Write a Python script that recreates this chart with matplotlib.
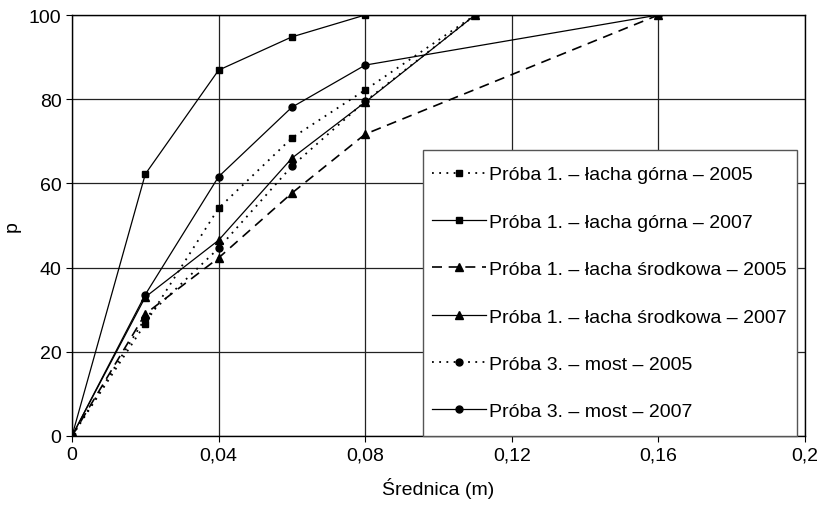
import matplotlib.pyplot as plt
from matplotlib.patches import Rectangle

plt.rcParams['font.family'] = ['Liberation Sans', 'DejaVu Sans']

# sieve diameters (m) and cumulative percentages
x_s1 = [0, 0.02, 0.04, 0.06, 0.08, 0.11]
y_s1_2005 = [0, 26.7, 54.1, 70.8, 82.2, 100]
x_s1_2007 = [0, 0.02, 0.04, 0.06, 0.08]
y_s1_2007 = [0, 62.2, 86.9, 94.8, 100]

x_s2_2005 = [0, 0.02, 0.04, 0.06, 0.08, 0.16]
y_s2_2005 = [0, 29.0, 42.3, 57.7, 71.7, 100]
x_s2_2007 = [0, 0.02, 0.04, 0.06, 0.08, 0.11]
y_s2_2007 = [0, 33.0, 46.5, 66.0, 79.3, 100]

x_s3_2005 = [0, 0.02, 0.04, 0.06, 0.08, 0.11]
y_s3_2005 = [0, 28.0, 44.6, 64.1, 79.5, 100]
x_s3_2007 = [0, 0.02, 0.04, 0.06, 0.08, 0.16]
y_s3_2007 = [0, 33.6, 61.6, 78.1, 88.1, 100]

labels = ['Próba 1. – łacha górna – 2005',
          'Próba 1. – łacha górna – 2007',
          'Próba 1. – łacha środkowa – 2005',
          'Próba 1. – łacha środkowa – 2007',
          'Próba 3. – most – 2005',
          'Próba 3. – most – 2007']

xticks = [0, 0.04, 0.08, 0.12, 0.16, 0.2]
xticklabels = ['0', '0,04', '0,08', '0,12', '0,16', '0,2']
yticks = [0, 20, 40, 60, 80, 100]

fig = plt.figure(figsize=(8.23, 5.06), dpi=100)
ax = fig.add_axes([72/823, 1-437/506, 733/823, 421/506])

dot = (0, (1.0, 3.0))
dash = (0, (6, 4))
kw = dict(color='black', lw=0.9)

ax.plot(x_s1, y_s1_2005, linestyle=dot, marker='s', ms=5, label=labels[0], color='black', lw=1.3)
ax.plot(x_s1_2007, y_s1_2007, linestyle='-', marker='s', ms=5, label=labels[1], **kw)
ax.plot(x_s2_2005, y_s2_2005, linestyle=dash, marker='^', ms=6, label=labels[2], color='black', lw=1.2)
ax.plot(x_s2_2007, y_s2_2007, linestyle='-', marker='^', ms=6, label=labels[3], **kw)
ax.plot(x_s3_2005, y_s3_2005, linestyle=dot, marker='o', ms=5, label=labels[4], color='black', lw=1.3)
ax.plot(x_s3_2007, y_s3_2007, linestyle='-', marker='o', ms=5, label=labels[5], **kw)

ax.set_xlim(0, 0.2)
ax.set_ylim(0, 100)
ax.set_xticks(xticks)
ax.set_xticklabels(xticklabels)
ax.set_yticks(yticks)
ax.grid(True, color='#222222', lw=0.9)
ax.set_axisbelow(True)
ax.tick_params(direction='out', length=4, width=0.8, labelsize=14, colors='black')
for sp in ax.spines.values():
    sp.set_color('black')
    sp.set_linewidth(1.0)

ax.set_xlabel('Średnica (m)', fontsize=14, labelpad=10)
ax.set_ylabel('p', fontsize=14)
ax.yaxis.set_label_coords(-0.07, 0.5)

# legend box drawn separately so it reaches down to the x axis
box = Rectangle((351/733, 0), 374/733, 286/421, transform=ax.transAxes,
                facecolor='white', edgecolor='#555555', lw=1.0, zorder=4.9, clip_on=False)
ax.add_patch(box)

leg = ax.legend(loc='lower left', bbox_to_anchor=(351/733, 7/421, 374/733, 279/421),
                mode='expand', borderaxespad=0, fontsize=14, handlelength=2.8,
                handletextpad=0.15, labelspacing=1.53, borderpad=0.45,
                frameon=False)

fig.savefig('out.png', dpi=100)
